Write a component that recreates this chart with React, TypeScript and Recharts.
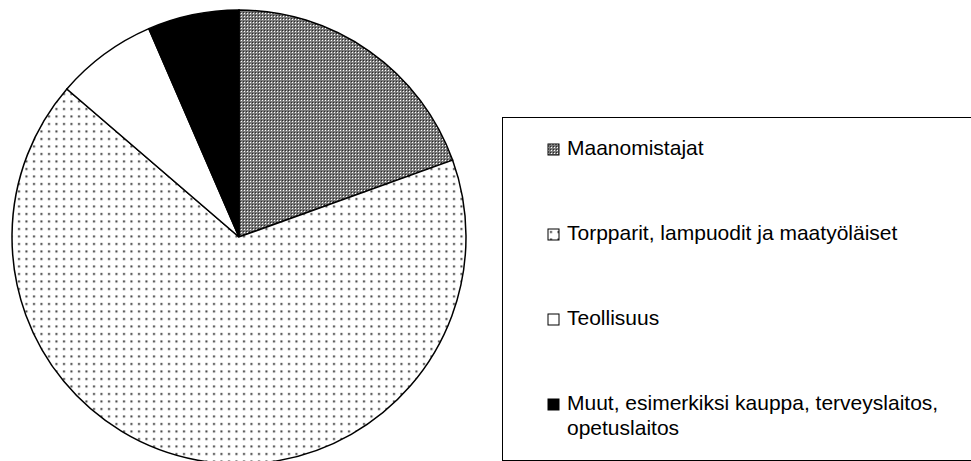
import React from "react";
import { PieChart, Pie, Cell, Legend } from "recharts";

const categories = [
  "Maanomistajat",
  "Torpparit, lampuodit ja maatyöläiset",
  "Teollisuus",
  "Muut, esimerkiksi kauppa, terveyslaitos, opetuslaitos",
];
const shares = [19.5, 66.8, 7.2, 6.5];

const fills = ["url(#checker)", "url(#dots)", "#ffffff", "#000000"];

const data = categories.map((name, i) => ({ name, value: shares[i] }));

// legend drawn in the original series order (recharts would sort it by name)
function LegendBox() {
  return (
    <div
      style={{
        width: "100%",
        height: "100%",
        boxSizing: "border-box",
        border: "1.5px solid #000",
        background: "#fff",
        paddingTop: 17,
      }}
    >
      {categories.map((name, i) => (
        <div
          key={name}
          style={{
            display: "flex",
            alignItems: "flex-start",
            marginLeft: 44,
            marginBottom: 60,
            fontFamily: "'Liberation Sans', Arial, sans-serif",
            fontSize: 21,
            lineHeight: "25px",
            color: "#000",
          }}
        >
          <svg width={13} height={13} style={{ marginTop: 8, marginRight: 7, flexShrink: 0 }}>
            <rect x={1} y={1} width={11} height={11} fill={fills[i]} stroke="#000" strokeWidth={1} />
          </svg>
          <span style={{ width: 390 }}>{name}</span>
        </div>
      ))}
    </div>
  );
}

export default function App() {
  return (
    <div style={{ position: "absolute", left: 0, top: 0, width: 971, height: 461, background: "#fff", overflow: "hidden" }}>
      <PieChart width={971} height={461} margin={{ top: 0, right: 0, bottom: 0, left: 0 }}>
        <defs>
          <pattern id="checker" patternUnits="userSpaceOnUse" width={3} height={3}>
            <rect width={3} height={3} fill="#7a7a7a" />
            <rect x={1} y={1} width={1} height={1} fill="#ffffff" />
            <rect x={0} y={0} width={1} height={1} fill="#2a2a2a" />
          </pattern>
          <pattern id="dots" patternUnits="userSpaceOnUse" width={7.5} height={7.5}>
            <rect width={7.5} height={7.5} fill="#ffffff" />
            <rect x={3} y={3} width={2} height={2} fill="#3a3a3a" />
          </pattern>
        </defs>
        <Pie
          data={data}
          dataKey="value"
          nameKey="name"
          cx={239}
          cy={237}
          outerRadius={227}
          startAngle={90}
          endAngle={-270}
          stroke="#000"
          strokeWidth={1.5}
          legendType="square"
          isAnimationActive={false}
          label={false}
          labelLine={false}
        >
          {data.map((d, i) => (
            <Cell key={d.name} fill={fills[i]} />
          ))}
        </Pie>
        <Legend
          content={<LegendBox />}
          wrapperStyle={{ position: "absolute", left: 502, top: 117, width: 490, height: 344 }}
        />
      </PieChart>
    </div>
  );
}
